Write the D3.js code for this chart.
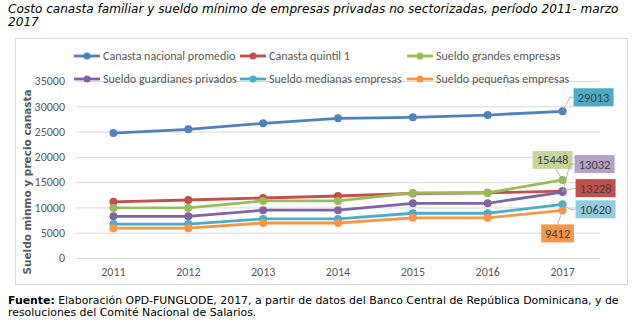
<!DOCTYPE html>
<html>
<head>
<meta charset="utf-8">
<script src="https://cdn.jsdelivr.net/npm/d3@7/dist/d3.min.js"></script>
<style>
  body { margin: 0; background: #fff; }
  svg { display: block; }
</style>
</head>
<body>
<div id="chart"></div>
<script>
/* Costo canasta vs sueldo mínimo, 2011–2017 */

const years = ["2011", "2012", "2013", "2014", "2015", "2016", "2017"];
const yTicks = [0, 5000, 10000, 15000, 20000, 25000, 30000, 35000];

const canastaNacional = [24700, 25450, 26630, 27620, 27820, 28270, 29013];
const canastaQuintil1 = [11100, 11470, 11860, 12260, 12750, 12900, 13228];
const sueldoGrandes = [9905, 9905, 11292, 11292, 12873, 12873, 15448];
const sueldoGuardianes = [8250, 8250, 9450, 9450, 10820, 10820, 13032];
const sueldoMedianas = [6700, 6700, 7730, 7730, 8850, 8850, 10620];
const sueldoPequenas = [5900, 5900, 6920, 6920, 7950, 7950, 9412];

const seriesNames = [
  "Canasta nacional promedio", "Canasta quintil 1", "Sueldo grandes empresas",
  "Sueldo guardianes privados", "Sueldo medianas empresas", "Sueldo pequeñas empresas"
];
const seriesValues = [canastaNacional, canastaQuintil1, sueldoGrandes, sueldoGuardianes, sueldoMedianas, sueldoPequenas];
const colors = ["#4f81bd", "#c0504d", "#9bbb59", "#8064a2", "#4bacc6", "#f79646"];

// callout boxes for the last value: offset of box centre from point, fill, elbow
const callouts = [
  { dx: 31, dy: -14, fill: "#4bacc6", elbow: [570, 0] },
  { dx: 33, dy: -3, fill: "#c0504d", elbow: null },
  { dx: -10, dy: -20, fill: "#c3d69b", elbow: null },
  { dx: 32, dy: -28, fill: "#b3a2c7", elbow: [570, 0] },
  { dx: 33, dy: 5, fill: "#93cddd", elbow: [570, 0] },
  { dx: -5, dy: 23, fill: "#f79646", elbow: null }
];

const W = 633, H = 325;
const margin = { top: 81, right: 33, bottom: 67, left: 76 };
const font = "Carlito, 'Liberation Sans Narrow', 'Open Sans', sans-serif";

const svg = d3.select("#chart").append("svg")
  .attr("width", W).attr("height", H);

// Title
svg.append("text")
  .attr("x", 8).attr("y", 13)
  .attr("font-family", "'DejaVu Sans', Verdana, sans-serif")
  .attr("font-style", "italic").attr("font-size", 12.1).attr("fill", "#000")
  .text("Costo canasta familiar y sueldo mínimo de empresas privadas no sectorizadas, período 2011- marzo");
svg.append("text")
  .attr("x", 8).attr("y", 26)
  .attr("font-family", "'DejaVu Sans', Verdana, sans-serif")
  .attr("font-style", "italic").attr("font-size", 12.1).attr("fill", "#000")
  .text("2017");

// Chart frame
svg.append("rect")
  .attr("x", 15.5).attr("y", 38.5).attr("width", 612).attr("height", 246)
  .attr("fill", "#fff").attr("stroke", "#d9d9d9");

const x = d3.scaleBand()
  .domain(years)
  .range([margin.left, W - margin.right]);

const y = d3.scaleLinear()
  .domain([0, 35000])
  .range([H - margin.bottom, margin.top]);

const cx = d => x(d) + x.bandwidth() / 2;

// Grid
svg.append("g")
  .attr("transform", `translate(${margin.left}, 0)`)
  .call(d3.axisLeft(y).tickValues(yTicks).tickFormat(d3.format("d"))
    .tickSize(-(W - margin.left - margin.right)).tickPadding(11))
  .call(g => g.selectAll("line").attr("stroke", "#d9d9d9"))
  .call(g => g.select(".domain").remove())
  .call(g => g.selectAll("text").attr("fill", "#595959").attr("font-size", 12).attr("font-family", font));

// X labels
svg.append("g")
  .attr("transform", `translate(0, ${H - margin.bottom})`)
  .call(d3.axisBottom(x).tickSize(0).tickPadding(9))
  .call(g => g.select(".domain").remove())
  .call(g => g.selectAll("text").attr("fill", "#595959").attr("font-size", 12).attr("font-family", font));

// Y label
svg.append("text")
  .attr("transform", "rotate(-90)")
  .attr("x", -182).attr("y", 31)
  .attr("text-anchor", "middle")
  .attr("font-family", "'DejaVu Sans', Verdana, sans-serif")
  .attr("font-weight", "bold").attr("font-size", 10.5).attr("fill", "#595959")
  .text("Sueldo mìnmo  y precio canasta");

// Lines + markers
const line = d3.line()
  .x((d, i) => cx(years[i]))
  .y(d => y(d));

seriesValues.forEach((vals, s) => {
  const g = svg.append("g");
  g.append("path")
    .datum(vals)
    .attr("d", line)
    .attr("fill", "none")
    .attr("stroke", colors[s])
    .attr("stroke-width", 2.8)
    .attr("stroke-linejoin", "round");
  g.selectAll("circle")
    .data(vals)
    .join("circle")
    .attr("cx", (d, i) => cx(years[i]))
    .attr("cy", d => y(d))
    .attr("r", 4)
    .attr("fill", colors[s]);
});

// Callouts on the last year
const last = years.length - 1;
seriesValues.forEach((vals, s) => {
  const c = callouts[s];
  const v = vals[last];
  const px = cx(years[last]), py = y(v);
  const bx = px + c.dx, by = py + c.dy;
  const label = String(v);
  const bw = label.length * 7.2 + 4, bh = 18;
  const pts = [[px, py]];
  if (c.elbow) pts.push([c.elbow[0], by]);
  if (c.dx > 15) pts.push([bx - bw / 2, by]);
  else if (c.dy < 0) pts.push([bx + 3, by + bh / 2]);
  else pts.push([bx, by - bh / 2]);
  svg.append("path")
    .attr("d", d3.line()(pts))
    .attr("fill", "none")
    .attr("stroke", "#a6a6a6")
    .attr("stroke-width", 0.8);
  svg.append("rect")
    .attr("x", bx - bw / 2).attr("y", by - bh / 2)
    .attr("width", bw).attr("height", bh)
    .attr("fill", c.fill);
  svg.append("text")
    .attr("x", bx).attr("y", by + 4.5)
    .attr("text-anchor", "middle")
    .attr("font-family", font).attr("font-size", 12.5).attr("fill", "#404040")
    .text(label);
});

// Legend
const legendX = [74, 240, 407];
const legendY = [56, 79];
seriesNames.forEach((name, s) => {
  const lx = legendX[s % 3], ly = legendY[Math.floor(s / 3)];
  const g = svg.append("g").attr("transform", `translate(${lx}, ${ly})`);
  g.append("line").attr("x1", 0).attr("x2", 26).attr("stroke", colors[s]).attr("stroke-width", 2.8);
  g.append("circle").attr("cx", 13).attr("r", 3.5).attr("fill", colors[s]);
  g.append("text")
    .attr("x", 29).attr("y", 4.2)
    .attr("font-family", font).attr("font-size", 12).attr("fill", "#595959")
    .text(name);
});

// Source note
const note = svg.append("text")
  .attr("x", 8).attr("y", 304)
  .attr("font-family", "'DejaVu Sans', Tahoma, sans-serif")
  .attr("font-size", 10.9).attr("fill", "#000");
note.append("tspan").attr("font-weight", "bold").text("Fuente:");
note.append("tspan").text(" Elaboración OPD-FUNGLODE, 2017, a partir de datos del Banco Central de República Dominicana, y de");
svg.append("text")
  .attr("x", 8).attr("y", 316)
  .attr("font-family", "'DejaVu Sans', Tahoma, sans-serif")
  .attr("font-size", 10.9).attr("fill", "#000")
  .text("resoluciones del Comité Nacional de Salarios.");
</script>
</body>
</html>
